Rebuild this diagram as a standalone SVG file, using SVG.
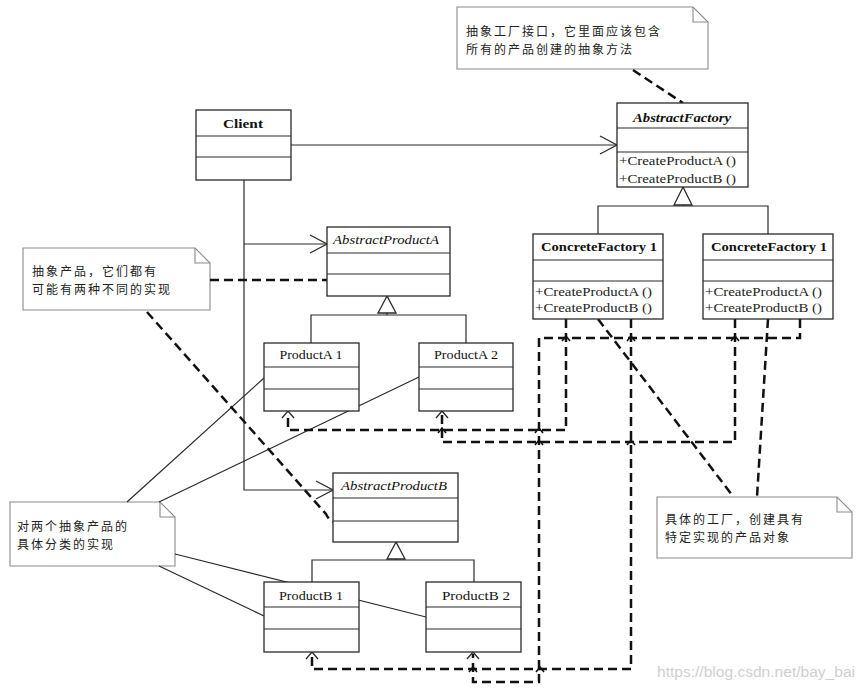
<svg xmlns="http://www.w3.org/2000/svg" width="866" height="691" viewBox="0 0 866 691">
<style>
.box{fill:#fff;stroke:#2a2a2a;stroke-width:1.3}
.sep{stroke:#2a2a2a;stroke-width:1.2}
.note{fill:#fff;stroke:#8a8a8a;stroke-width:1.1}
.fold{fill:none;stroke:#8a8a8a;stroke-width:1.1}
.cn{font-family:"Noto Sans CJK SC",sans-serif;font-size:12px;letter-spacing:2px;fill:#222}
.nm{font-family:"Liberation Serif",serif;font-size:13px;fill:#111;text-anchor:middle}
.b{font-weight:bold}
.i{font-style:italic}
.op{font-family:"Liberation Serif",serif;font-size:13px;fill:#222}
.ln{fill:none;stroke:#2a2a2a;stroke-width:1.2}
.dl{fill:none;stroke:#111;stroke-width:2.5;stroke-dasharray:9 5}
.ah{fill:none;stroke:#2a2a2a;stroke-width:1.3}
.tri{fill:#fff;stroke:#2a2a2a;stroke-width:1.3}
.mk{fill:none;stroke:#111;stroke-width:1.6}
</style>
<rect width="866" height="691" fill="#fff"/>

<!-- notes -->
<g id="note-factory">
<path class="note" d="M457,7 H693 L708,22 V69 H457 Z"/>
<path class="fold" d="M693,7 V22 H708"/>
<text class="cn" x="466" y="36">抽象工厂接口，它里面应该包含</text>
<text class="cn" x="466" y="53.5">所有的产品创建的抽象方法</text>
</g>
<g id="note-products">
<path class="note" d="M23,248 H195 L210,263 V310 H23 Z"/>
<path class="fold" d="M195,248 V263 H210"/>
<text class="cn" x="32" y="276">抽象产品，它们都有</text>
<text class="cn" x="32" y="293.5">可能有两种不同的实现</text>
</g>
<g id="note-concrete-products">
<path class="note" d="M10,502 H160 L175,517 V566 H10 Z"/>
<path class="fold" d="M160,502 V517 H175"/>
<text class="cn" x="17" y="531">对两个抽象产品的</text>
<text class="cn" x="17" y="548.5">具体分类的实现</text>
</g>
<g id="note-concrete-factory">
<path class="note" d="M657,497 H837 L852,512 V558 H657 Z"/>
<path class="fold" d="M837,497 V512 H852"/>
<text class="cn" x="665" y="524">具体的工厂，创建具有</text>
<text class="cn" x="665" y="541.5">特定实现的产品对象</text>
</g>

<!-- connectors -->
<g id="connectors">
<!-- associations from Client -->
<path class="ln" d="M291,145 H617"/>
<path class="ah" d="M600,136 L617,145 L600,154"/>
<path class="ln" d="M244,180 V490 H333"/>
<path class="ln" d="M244,244 H327"/>
<path class="ah" d="M310,235 L327,244 L310,253"/>
<path class="ah" d="M316,481 L333,490 L316,499"/>
<!-- generalizations -->
<path class="ln" d="M683,205 V206 M598,234 V206 H768 V234"/>
<path class="tri" d="M683,187 L674,205 H692 Z"/>
<path class="ln" d="M311,343 V315 H466 V343 M387,313 V315"/>
<path class="tri" d="M387,296 L378,313 H396 Z"/>
<path class="ln" d="M312,582 V560 H474 V582 M396,559 V560"/>
<path class="tri" d="M396,542 L387,559 H405 Z"/>
<!-- note links (solid) -->
<path class="ln" d="M127,502 L264,378"/>
<path class="ln" d="M159,502 L419,377"/>
<path class="ln" d="M175,554 L426,617"/>
<path class="ln" d="M159,566 L264,616"/>
<!-- note links (dashed) -->
<path class="dl" d="M633,70 L683,103"/>
<path class="dl" d="M210,280 H327"/>
<path class="dl" d="M147,312 L326,514 Q329,520 333,522"/>
<path class="dl" d="M598,319 L732,495"/>
<path class="dl" d="M768,319 L757,497"/>
<!-- dependencies -->
<path class="dl" d="M566,319 V430 H288 V413"/>
<path class="ah" d="M282,418 L288,411 L294,418"/>
<path class="dl" d="M735,319 V442 H442 V413"/>
<path class="ah" d="M436,418 L442,411 L448,418"/>
<path class="dl" d="M631,319 V669 H312 V654"/>
<path class="ah" d="M306,659 L312,652 L318,659"/>
<path class="dl" d="M800,319 V338 H539 V682 H473 V654"/>
<path class="ah" d="M467,659 L473,652 L479,659"/>
<!-- crossing marks -->
<path class="mk" d="M562,341 L566,336 L570,341 M627,341 L631,336 L635,341 M731,341 L735,336 L739,341 M535,433 L539,428 L543,433 M438,433 L442,428 L446,433 M535,445 L539,440 L543,445 M627,445 L631,440 L635,445 M469,672 L473,667 L477,672 M536,672 L540,667 L544,672"/>
</g>

<!-- classes -->
<g id="AbstractFactory">
<rect class="box" x="617" y="103" width="131" height="84"/>
<path class="sep" d="M617,128 H748 M617,152 H748"/>
<text class="nm b i" x="682" y="122" textLength="98" lengthAdjust="spacingAndGlyphs">AbstractFactory</text>
<text class="op" x="619" y="165" textLength="117" lengthAdjust="spacingAndGlyphs">+CreateProductA ()</text>
<text class="op" x="619" y="183" textLength="117" lengthAdjust="spacingAndGlyphs">+CreateProductB ()</text>
</g>
<g id="Client">
<rect class="box" x="196" y="110" width="95" height="70"/>
<path class="sep" d="M196,136 H291 M196,157 H291"/>
<text class="nm b" x="243" y="128" textLength="40" lengthAdjust="spacingAndGlyphs">Client</text>
</g>
<g id="AbstractProductA">
<rect class="box" x="327" y="227" width="123" height="69"/>
<path class="sep" d="M327,253 H450 M327,274 H450"/>
<text class="nm i" x="386" y="244" textLength="106" lengthAdjust="spacingAndGlyphs">AbstractProductA</text>
</g>
<g id="ConcreteFactory1">
<rect class="box" x="533" y="234" width="130" height="85"/>
<path class="sep" d="M533,260 H663 M533,281 H663"/>
<text class="nm b" x="599" y="251" textLength="116" lengthAdjust="spacingAndGlyphs">ConcreteFactory 1</text>
<text class="op" x="535" y="296" textLength="117" lengthAdjust="spacingAndGlyphs">+CreateProductA ()</text>
<text class="op" x="535" y="312" textLength="117" lengthAdjust="spacingAndGlyphs">+CreateProductB ()</text>
</g>
<g id="ConcreteFactory2">
<rect class="box" x="703" y="234" width="130" height="85"/>
<path class="sep" d="M703,260 H833 M703,281 H833"/>
<text class="nm b" x="769" y="251" textLength="116" lengthAdjust="spacingAndGlyphs">ConcreteFactory 1</text>
<text class="op" x="705" y="296" textLength="117" lengthAdjust="spacingAndGlyphs">+CreateProductA ()</text>
<text class="op" x="705" y="312" textLength="117" lengthAdjust="spacingAndGlyphs">+CreateProductB ()</text>
</g>
<g id="ProductA1">
<rect class="box" x="264" y="343" width="95" height="68"/>
<path class="sep" d="M264,367 H359 M264,389 H359"/>
<text class="nm" x="311" y="359" textLength="63" lengthAdjust="spacingAndGlyphs">ProductA 1</text>
</g>
<g id="ProductA2">
<rect class="box" x="419" y="343" width="94" height="68"/>
<path class="sep" d="M419,367 H513 M419,389 H513"/>
<text class="nm" x="466" y="359" textLength="64" lengthAdjust="spacingAndGlyphs">ProductA 2</text>
</g>
<g id="AbstractProductB">
<rect class="box" x="333" y="473" width="125" height="69"/>
<path class="sep" d="M333,498 H458 M333,521 H458"/>
<text class="nm i" x="394" y="490" textLength="106" lengthAdjust="spacingAndGlyphs">AbstractProductB</text>
</g>
<g id="ProductB1">
<rect class="box" x="264" y="582" width="95" height="70"/>
<path class="sep" d="M264,607 H359 M264,629 H359"/>
<text class="nm" x="311" y="600" textLength="64" lengthAdjust="spacingAndGlyphs">ProductB 1</text>
</g>
<g id="ProductB2">
<rect class="box" x="426" y="582" width="95" height="70"/>
<path class="sep" d="M426,607 H521 M426,629 H521"/>
<text class="nm" x="476" y="600" textLength="68" lengthAdjust="spacingAndGlyphs">ProductB 2</text>
</g>

<text x="657" y="677" font-family="Liberation Sans, sans-serif" font-size="14" fill="#cfcfcf" textLength="198" lengthAdjust="spacingAndGlyphs">https://blog.csdn.net/bay_bai</text>
</svg>
